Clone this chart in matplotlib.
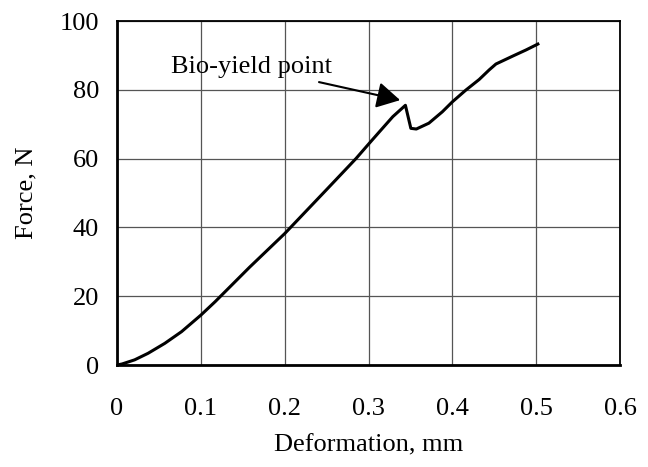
import numpy as np
import matplotlib
matplotlib.use("Agg")
from matplotlib import pyplot as plt

plt.rcParams['font.family'] = ['Liberation Serif', 'DejaVu Serif']

# deformation (mm) / force (N)
deformation = [0, 0.006, 0.021, 0.037, 0.057, 0.077, 0.100, 0.117, 0.158,
               0.200, 0.250, 0.285, 0.300, 0.313, 0.329, 0.344, 0.3505,
               0.357, 0.372, 0.388, 0.400, 0.416, 0.432, 0.444, 0.452, 0.472,
               0.488, 0.502]
force = [0, 0.3, 1.5, 3.4, 6.3, 9.7, 14.5, 18.4, 28.4,
         38.2, 51.0, 60.0, 64.2, 67.8, 72.2, 75.5, 68.8,
         68.6, 70.3, 73.6, 76.5, 79.9, 83.0, 85.8, 87.5, 89.8,
         91.6, 93.3]

x_ticks = [0, 0.1, 0.2, 0.3, 0.4, 0.5, 0.6]
x_tick_labels = ['0', '0.1', '0.2', '0.3', '0.4', '0.5', '0.6']
y_ticks = [0, 20, 40, 60, 80, 100]

fig = plt.figure(figsize=(6.48, 4.67), dpi=100)
ax = fig.add_axes([0.1806, 0.2184, 0.7762, 0.7366])

ax.plot(deformation, force, color='black', lw=2.2, solid_joinstyle='round')

ax.set_xlim(0, 0.6)
ax.set_ylim(0, 100)
ax.set_xticks(x_ticks)
ax.set_xticklabels(x_tick_labels)
ax.set_yticks(y_ticks)
ax.tick_params(axis='both', length=0, labelsize=19)
ax.tick_params(axis='x', pad=24)
ax.tick_params(axis='y', pad=13)
ax.grid(True, color='#555555', lw=0.9)
ax.set_axisbelow(True)
for s in ax.spines.values():
    s.set_linewidth(1.3)
ax.spines['left'].set_linewidth(2)
ax.spines['bottom'].set_linewidth(2)

ax.set_xlabel('Deformation, mm', fontsize=19, labelpad=10)
ax.set_ylabel('Force, N', fontsize=19, labelpad=16)

ax.annotate('Bio-yield point', xy=(0.3377, 77.0), xytext=(0.2566, 86.6),
            fontsize=19, ha='right', va='center',
            arrowprops=dict(arrowstyle='-|>,head_length=0.75,head_width=0.42',
                            color='black', lw=1.5, shrinkA=4, shrinkB=0))

fig.savefig('out.png', dpi=100)
